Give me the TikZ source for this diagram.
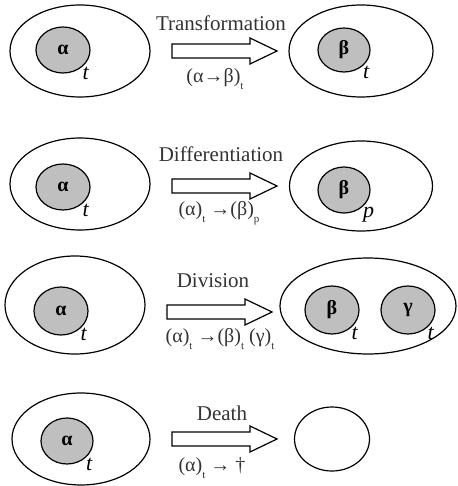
\documentclass[tikz,border=0pt]{standalone}
\usepackage{fontspec}
\setmainfont{Liberation Serif}
\usetikzlibrary{positioning,shapes.geometric}

\newcommand{\lowsub}[1]{\raisebox{-0.7ex}{\fontsize{11}{12}\selectfont #1}}

\begin{document}
\begin{tikzpicture}[x=1pt, y=-1pt,
  cell/.style={draw, ellipse, line width=1.2pt, inner sep=0pt},
  nucleus/.style={draw, ellipse, line width=1.2pt, fill=black!25, inner sep=0pt,
    font=\fontsize{20}{22}\selectfont\bfseries},
  tlab/.style={anchor=north west, inner sep=0pt, font=\fontsize{22}{24}\selectfont\itshape},
  proc/.style={font=\fontsize{21}{24}\selectfont, text=black!80},
  rule/.style={font=\fontsize{20}{22}\selectfont, text=black!80},
  fatarrow/.pic={\draw[line width=1.2pt] (0,-7) -- (78,-7) -- (78,-13) -- (105,0)
    -- (78,13) -- (78,7) -- (0,7) -- cycle;}]
  \useasboundingbox (0,0) rectangle (457,486);

  % transformation
  \node[cell, minimum width=140, minimum height=92] (c1) at (80,51) {};
  \node[nucleus, minimum width=54, minimum height=46] (n1) at (63,50) {α};
  \node[tlab] at (n1.south east) {t};
  \pic (a1) at (172,51) {fatarrow};
  \node[proc] (p1) at (221,23) {Transformation};
  \node[rule] (r1) at (215,79) {(α→β)\lowsub{t}};
  \node[cell, minimum width=144, minimum height=92] (d1) at (361,51) {};
  \node[nucleus, minimum width=52, minimum height=44] (m1) at (344,50) {β};
  \node[tlab] at (m1.south east) {t};

  % differentiation
  \node[cell, minimum width=140, minimum height=92] (c2) at (80,184) {};
  \node[nucleus, minimum width=54, minimum height=46] (n2) at (63,187) {α};
  \node[tlab] at (n2.south east) {t};
  \pic (a2) at (172,186) {fatarrow};
  \node[proc] (p2) at (221,154) {Differentiation};
  \node[rule] (r2) at (219,213) {(α)\lowsub{t} →(β)\lowsub{p}};
  \node[cell, minimum width=143, minimum height=90] (d2) at (361,186) {};
  \node[nucleus, minimum width=52, minimum height=46] (m2) at (344,190) {β};
  \node[tlab] at (m2.south east) {p};

  % division
  \node[cell, minimum width=140, minimum height=98] (c3) at (75,305) {};
  \node[nucleus, minimum width=54, minimum height=48] (n3) at (61,311) {α};
  \node[tlab] at (n3.south east) {t};
  \pic (a3) at (167,312) {fatarrow};
  \node[proc] (p3) at (213,281) {Division};
  \node[rule] (r3) at (220,339) {(α)\lowsub{t} →(β)\lowsub{t} (γ)\lowsub{t}};
  \node[cell, minimum width=176, minimum height=96] (d3) at (368,306) {};
  \node[nucleus, minimum width=54, minimum height=48] (m3) at (332,310) {β};
  \node[tlab] at (m3.south east) {t};
  \node[nucleus, minimum width=54, minimum height=48] (g3) at (408,310) {γ};
  \node[tlab] at (g3.south east) {t};

  % death
  \node[cell, minimum width=138, minimum height=92] (c4) at (81,439) {};
  \node[nucleus, minimum width=52, minimum height=46] (n4) at (67,441) {α};
  \node[tlab] at (n4.south east) {t};
  \pic (a4) at (172,439) {fatarrow};
  \node[proc] (p4) at (222,413) {Death};
  \node[rule] (r4) at (212,468) {(α)\lowsub{t} → †};
  \node[cell, minimum width=75, minimum height=64] (d4) at (332,439) {};
\end{tikzpicture}
\end{document}
